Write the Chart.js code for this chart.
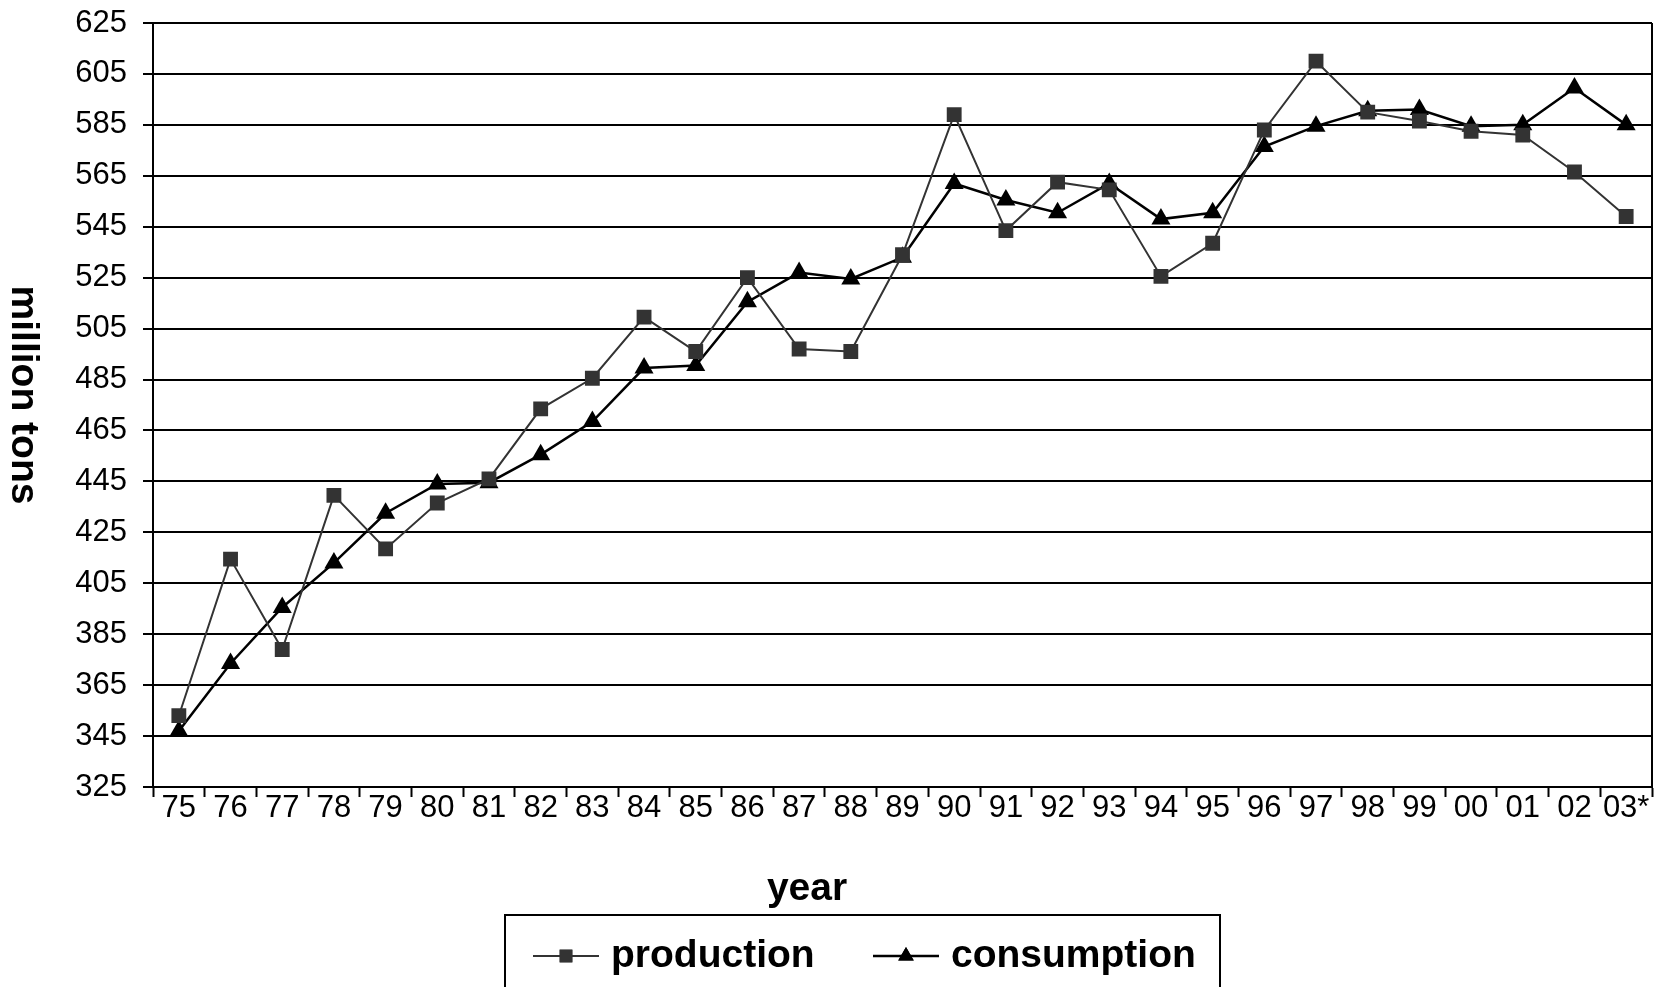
<!DOCTYPE html>
<html lang="en">

<head>
  <meta charset="UTF-8">
  <title>Production and Consumption</title>
  <style>
    body {
      margin: 0;
      background: #fff;
    }

    #wrap {
      position: relative;
      width: 1671px;
      height: 987px;
    }
  </style>
  <script src="https://cdn.jsdelivr.net/npm/chart.js@4.4.4/dist/chart.umd.js"></script>
</head>

<body>
  <div id="wrap">
    <canvas id="chart"></canvas>
  </div>
</body>
<script>
  const years = ['75', '76', '77', '78', '79', '80', '81', '82', '83', '84', '85', '86', '87', '88', '89',
    '90', '91', '92', '93', '94', '95', '96', '97', '98', '99', '00', '01', '02', '03*'];

  // million tons
  const production = [353, 414.5, 379, 439.5, 418.5, 436.5, 446, 473.5, 485.5, 509.5, 496, 525, 497, 496, 534,
    589, 543.5, 562.5, 559.5, 525.5, 538.5, 583, 610, 590, 586.5, 582.5, 581, 566.5, 549];
  const consumption = [347, 373.5, 395.5, 413, 432.5, 444, 444.5, 455.5, 468.5, 489.5, 490.5, 515.5, 527, 524.5, 533,
    562, 555.5, 550.5, 562, 548, 550.5, 576.5, 584.5, 590.5, 591, 584.5, 585, 599.5, 585];

  const yMin = 325;
  const yMax = 625;
  const yStep = 20;

  const FONT = '"Liberation Sans", Arial, sans-serif';

  // axis titles, right frame line and the boxed legend
  const extras = {
    id: 'extras',
    afterDraw(chart) {
      const { ctx, chartArea } = chart;
      ctx.save();

      ctx.strokeStyle = '#000';
      ctx.lineWidth = 2;
      ctx.beginPath();
      ctx.moveTo(chartArea.right, chartArea.top);
      ctx.lineTo(chartArea.right, chartArea.bottom);
      ctx.stroke();

      ctx.fillStyle = '#000';
      ctx.font = 'bold 39px ' + FONT;
      ctx.textAlign = 'center';
      ctx.textBaseline = 'middle';
      ctx.fillText('year', 807, 889);

      ctx.save();
      ctx.translate(23, 395);
      ctx.rotate(Math.PI / 2);
      ctx.fillText('million tons', 0, 0);
      ctx.restore();

      // legend
      ctx.lineWidth = 2;
      ctx.strokeRect(505, 915, 715, 120);
      const legendX = [533, 873];
      const ly = 956;
      chart.data.datasets.forEach((ds, i) => {
        const x0 = legendX[i];
        ctx.strokeStyle = ds.borderColor;
        ctx.lineWidth = ds.borderWidth;
        ctx.beginPath();
        ctx.moveTo(x0, ly);
        ctx.lineTo(x0 + 66, ly);
        ctx.stroke();
        ctx.fillStyle = ds.pointBackgroundColor;
        Chart.helpers.drawPoint(ctx, {
          pointStyle: ds.pointStyle,
          radius: 9,
          rotation: 0,
          borderWidth: 0
        }, x0 + 33, ly);
        ctx.fill();
        ctx.fillStyle = '#000';
        ctx.textAlign = 'left';
        ctx.fillText(ds.label, x0 + 78, ly);
      });

      ctx.restore();
    }
  };

  new Chart('chart', {
    type: 'line',
    data: {
      labels: years,
      datasets: [{
        label: 'production',
        data: production,
        borderColor: '#333333',
        borderWidth: 2,
        pointStyle: 'rect',
        pointRadius: 10.5,
        pointBorderWidth: 0,
        pointBackgroundColor: '#333333',
        tension: 0
      },
      {
        label: 'consumption',
        data: consumption,
        borderColor: '#000000',
        borderWidth: 2.5,
        pointStyle: 'triangle',
        pointRadius: 11,
        pointBorderWidth: 0,
        pointBackgroundColor: '#000000',
        tension: 0
      }]
    },
    options: {
      responsive: true,
      maintainAspectRatio: false,
      animation: false,
      events: [],
      layout: {
        padding: { top: 23, right: 19, left: 0, bottom: 0 }
      },
      plugins: {
        legend: { display: false },
        tooltip: { enabled: false }
      },
      scales: {
        x: {
          offset: true,
          grid: {
            offset: true,
            drawOnChartArea: false,
            drawTicks: true,
            tickLength: 10,
            tickColor: '#000',
            tickWidth: 2
          },
          border: { color: '#000', width: 2 },
          ticks: {
            color: '#000',
            padding: -7,
            maxRotation: 0,
            autoSkip: false,
            font: { family: FONT, size: 31 }
          },
          afterFit(scale) {
            scale.height = 200;
            scale.paddingLeft = 0;
            scale.paddingRight = 0;
          }
        },
        y: {
          min: yMin,
          max: yMax,
          grid: {
            color: '#000',
            lineWidth: 2,
            tickLength: 10
          },
          border: { color: '#000', width: 2 },
          ticks: {
            stepSize: yStep,
            color: '#000',
            padding: 16,
            font: { family: FONT, size: 31 }
          },
          afterFit(scale) {
            scale.width = 153;
            scale.paddingTop = 0;
            scale.paddingBottom = 0;
          }
        }
      }
    },
    plugins: [extras]
  });
</script>

</html>
